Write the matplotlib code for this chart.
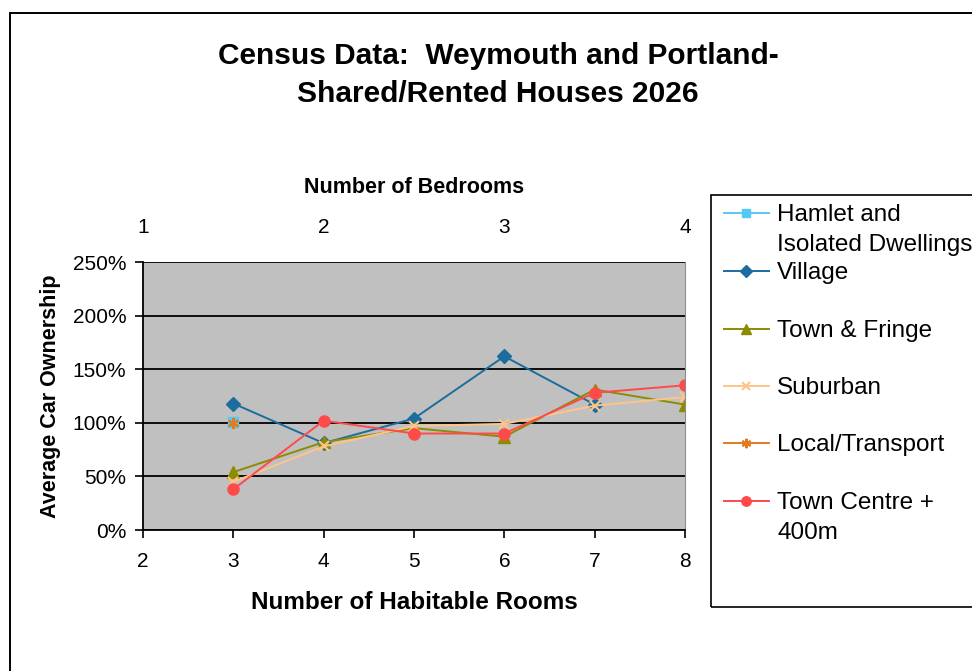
import matplotlib
matplotlib.use("Agg")
import matplotlib.pyplot as plt
import numpy as np
from matplotlib.lines import Line2D
from matplotlib.patches import Rectangle

plt.rcParams['font.family'] = ['Liberation Sans', 'DejaVu Sans']

# data (average car ownership, %)
rooms = [3, 4, 5, 6, 7, 8]
bedroom_ticks = [1, 2, 3, 4]
hamlet = [101, None, None, None, None, None]
village = [118, 81, 104, 162, 117, None]
town_fringe = [54, 82, 95, 87, 131, 117]
suburban = [45, 78, 97, 99, 116, 124]
local_transport = [100, None, None, None, None, None]
town_centre = [38, 102, 90, 90, 128, 135]

names = ['Hamlet and\nIsolated Dwellings', 'Village', 'Town & Fringe',
         'Suburban', 'Local/Transport', 'Town Centre +\n400m']
series = [hamlet, village, town_fringe, suburban, local_transport, town_centre]
colors = ['#55C8F5', '#1B6D9E', '#8C8C00', '#FFC48A', '#E37B1E', '#FF4A4A']
markers = ['s', 'D', '^', 'x', (6, 2, 0), 'o']
msizes = [7, 7, 8.5, 7, 8, 8]

W, H = 972, 671
fig = plt.figure(figsize=(W / 100, H / 100), dpi=100)

def fx(px):
    return px / W

def fy(py):
    return 1 - py / H

# outer chart border (runs off the right and bottom edges)
fig.patches.append(Rectangle((fx(10), fy(700)), fx(1000), fy(13) - fy(700),
                             transform=fig.transFigure, fill=False,
                             edgecolor='black', linewidth=1.4, clip_on=False))

ax = fig.add_axes([fx(143), fy(530), fx(685) - fx(143), fy(262) - fy(530)])
ax.set_facecolor('#C0C0C0')
ax.set_xlim(2, 8)
ax.set_ylim(0, 250)
ax.set_yticks(np.arange(0, 251, 50))
ax.set_yticklabels([f'{v}%' for v in range(0, 251, 50)])
ax.set_xticks(range(2, 9))
ax.grid(axis='y', color='black', linewidth=1.3)
ax.set_axisbelow(True)
for s in ['left', 'bottom']:
    ax.spines[s].set_linewidth(1.3)
ax.spines['top'].set_visible(False)
ax.spines['right'].set_color('#8C8C8C')
ax.tick_params(axis='both', direction='out', length=6, width=1.2,
               labelsize=15, pad=6)
ax.tick_params(axis='x', pad=10)

for vals, c, m, ms in zip(series, colors, markers, msizes):
    y = np.array([np.nan if v is None else v for v in vals], dtype=float)
    ax.plot(rooms, y, color=c, marker=m, markersize=ms, linewidth=1.4,
            markeredgewidth=1.5 if m in ('x', (6, 2, 0)) else 1)

ax.set_xlabel('Number of Habitable Rooms', fontsize=17.5, fontweight='bold',
              labelpad=14)
ax.set_ylabel('Average Car Ownership', fontsize=15.5, fontweight='bold',
              labelpad=8)

top = ax.twiny()
top.set_xlim(1, 4)
top.set_xticks(bedroom_ticks)
top.tick_params(axis='x', length=0, labelsize=15, pad=18)
for s in top.spines.values():
    s.set_visible(False)
top.set_xlabel('Number of Bedrooms', fontsize=15.5, fontweight='bold',
               labelpad=18)

fig.text(fx(498), fy(75), 'Census Data:  Weymouth and Portland-\nShared/Rented Houses 2026',
         ha='center', va='center', fontsize=21.5, fontweight='bold',
         linespacing=1.45)

# legend box
fig.patches.append(Rectangle((fx(711), fy(607)), fx(400), fy(195) - fy(607),
                             transform=fig.transFigure, fill=False,
                             edgecolor='black', linewidth=1.2, clip_on=False))
entry_y = [213, 271, 329, 386, 443, 501]
for name, c, m, ms, ey in zip(names, colors, markers, msizes, entry_y):
    fig.lines.append(Line2D([fx(724), fx(769)], [fy(ey), fy(ey)],
                            transform=fig.transFigure, color=c, linewidth=1.4))
    fig.lines.append(Line2D([fx(746)], [fy(ey)], transform=fig.transFigure,
                            color=c, marker=m, markersize=ms * 0.85,
                            markeredgewidth=1.5 if m in ('x', (6, 2, 0)) else 1))
    fig.text(fx(777), fy(ey - 9), name, ha='left', va='top', fontsize=17.5,
             linespacing=1.45)

fig.savefig('out.png', dpi=100)
